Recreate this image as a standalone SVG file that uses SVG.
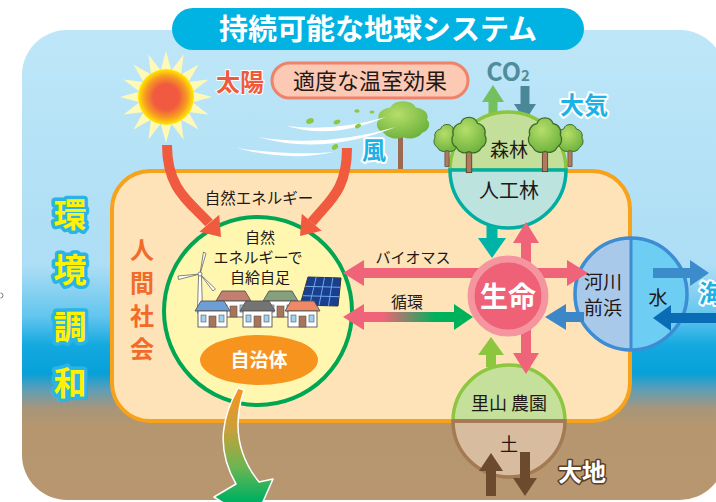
<svg xmlns="http://www.w3.org/2000/svg" width="716" height="502" viewBox="0 0 716 502">
  <defs>
    <linearGradient id="sky" x1="0" y1="30" x2="0" y2="500" gradientUnits="userSpaceOnUse">
      <stop offset="0" stop-color="#BEE6F8"/>
      <stop offset="0.5" stop-color="#ADDEF5"/>
      <stop offset="0.61" stop-color="#62C5EE"/>
      <stop offset="0.67" stop-color="#14A9E0"/>
      <stop offset="0.73" stop-color="#06A0D8"/>
      <stop offset="0.765" stop-color="#5E9EB6"/>
      <stop offset="0.805" stop-color="#A8957A"/>
      <stop offset="0.84" stop-color="#B5966F"/>
      <stop offset="1" stop-color="#B8976F"/>
    </linearGradient>
    <radialGradient id="sunCore" cx="166" cy="97" r="28" gradientUnits="userSpaceOnUse">
      <stop offset="0" stop-color="#F15A40"/>
      <stop offset="0.45" stop-color="#F15A40"/>
      <stop offset="0.75" stop-color="#F79A22"/>
      <stop offset="1" stop-color="#FFEA00"/>
    </radialGradient>
    <radialGradient id="sunRay" cx="166" cy="97" r="46" gradientUnits="userSpaceOnUse">
      <stop offset="0.55" stop-color="#FFE600"/>
      <stop offset="1" stop-color="#FFF9B8"/>
    </radialGradient>
    <radialGradient id="leaf" cx="0.4" cy="0.35" r="0.7">
      <stop offset="0" stop-color="#B6DE6A"/>
      <stop offset="1" stop-color="#6CB23C"/>
    </radialGradient>
    <linearGradient id="cycle" x1="383" y1="0" x2="435" y2="0" gradientUnits="userSpaceOnUse">
      <stop offset="0" stop-color="#EF6478"/>
      <stop offset="1" stop-color="#00B15B"/>
    </linearGradient>
    <linearGradient id="outflow" x1="0" y1="390" x2="0" y2="500" gradientUnits="userSpaceOnUse">
      <stop offset="0" stop-color="#F7941D"/>
      <stop offset="0.35" stop-color="#C9A03A"/>
      <stop offset="0.7" stop-color="#6CB552"/>
      <stop offset="1" stop-color="#00B060"/>
    </linearGradient>
    <path id="canopy" d="M-12,8 a8.5,8.5 0 0 1 -3,-12 a8.5,8.5 0 0 1 7,-11 a8.5,8.5 0 0 1 16,0 a8.5,8.5 0 0 1 7,11 a8.5,8.5 0 0 1 -3,12 a8.5,8.5 0 0 1 -12,4 a8.5,8.5 0 0 1 -12,-4 z"/>
    <g id="tree">
      <rect x="-2.6" y="6" width="5.2" height="26" fill="#B07A5E" stroke="#5A3A2A" stroke-width="0.8"/>
      <use href="#canopy" fill="url(#leaf)" stroke="#3E6B2A" stroke-width="1.2"/>
    </g>
    <polygon id="ray" points="0,-46 6,-24 -6,-24" fill="url(#sunRay)"/>
    <g id="house">
      <polygon points="0,10 6,0 29,0 35,10" stroke="#555" stroke-width="0.9"/>
      <rect x="3" y="10" width="29" height="16" fill="#FFFFFF" stroke="#555" stroke-width="0.9"/>
      <rect x="6" y="14" width="5" height="7" fill="#9CD2F2" stroke="#555" stroke-width="0.6"/>
      <rect x="24" y="14" width="5" height="7" fill="#9CD2F2" stroke="#555" stroke-width="0.6"/>
      <rect x="14" y="15" width="7" height="11" fill="#A8745A" stroke="#555" stroke-width="0.6"/>
    </g>
  </defs>

  <style>
    text { font-family: "Noto Sans CJK JP", "Noto Sans", sans-serif; text-anchor: middle; }
    .b { font-weight: 700; }
    .dark { fill: #231815; }
    .sky { fill: #1DB2E6; stroke: #FFFFFF; stroke-width: 4; paint-order: stroke; stroke-linejoin: round; font-weight: 700; }
    .vert { fill: #FFF200; stroke: #2AB4E6; stroke-width: 7; paint-order: stroke; stroke-linejoin: round; font-weight: 700; font-size: 33px; }
    .pink { fill: #EF6478; }
    .pinkS { stroke: #EF6478; stroke-width: 10; fill: none; }
  </style>

  <!-- backdrop -->
  <rect x="22" y="30" width="703" height="470" rx="45" fill="url(#sky)"/>
  <path d="M0.5,293 a2.5,2.5 0 0 1 0,5" fill="none" stroke="#777" stroke-width="1"/>

  <!-- title -->
  <g id="title">
    <rect x="172" y="8" width="412" height="42" rx="21" fill="#00B3E3"/>
    <text x="378" y="40" class="b" font-size="29" fill="#FFFFFF">持続可能な地球システム</text>
  </g>

  <!-- sun -->
  <g id="sun">
    <g transform="translate(166,97)">
      <use href="#ray" transform="rotate(0)"/>
      <use href="#ray" transform="rotate(22.5)"/>
      <use href="#ray" transform="rotate(45)"/>
      <use href="#ray" transform="rotate(67.5)"/>
      <use href="#ray" transform="rotate(90)"/>
      <use href="#ray" transform="rotate(112.5)"/>
      <use href="#ray" transform="rotate(135)"/>
      <use href="#ray" transform="rotate(157.5)"/>
      <use href="#ray" transform="rotate(180)"/>
      <use href="#ray" transform="rotate(202.5)"/>
      <use href="#ray" transform="rotate(225)"/>
      <use href="#ray" transform="rotate(247.5)"/>
      <use href="#ray" transform="rotate(270)"/>
      <use href="#ray" transform="rotate(292.5)"/>
      <use href="#ray" transform="rotate(315)"/>
      <use href="#ray" transform="rotate(337.5)"/>
    </g>
    <circle cx="166" cy="97" r="28" fill="url(#sunCore)"/>
    <text x="240" y="91" class="b" font-size="24" fill="#EF5A3C" stroke="#FFFFFF" stroke-width="2" paint-order="stroke">太陽</text>
  </g>

  <!-- greenhouse label -->
  <g id="greenhouse">
    <rect x="272" y="63" width="196" height="35" rx="17.5" fill="#FBC9B4" stroke="#F0826A" stroke-width="3"/>
    <text x="370" y="89" font-size="22" class="dark">適度な温室効果</text>
  </g>

  <!-- atmosphere -->
  <g id="atmosphere">
    <text x="508" y="81" font-family="Liberation Sans, Arial, sans-serif" font-weight="700" font-size="25" fill="#4F8D9C">CO<tspan font-size="15">2</tspan></text>
    <line x1="493" y1="100" x2="493" y2="119" stroke="#74BF5E" stroke-width="9"/>
    <polygon points="493,85 482,102 504,102" fill="#74BF5E"/>
    <line x1="525" y1="86" x2="525" y2="105" stroke="#4A8898" stroke-width="9"/>
    <polygon points="525,121 514,104 536,104" fill="#4A8898"/>
    <text x="584" y="114" font-size="24" class="sky">大気</text>
  </g>

  <!-- wind -->
  <g id="wind">
    <rect x="398" y="132" width="5" height="38" fill="#9B6A50"/>
    <use href="#canopy" transform="translate(403,124) scale(1.6,1.1)" fill="url(#leaf)"/>
    <path d="M287,126 Q332,140 386,117 Q334,132 287,126 Z" fill="#FFFFFF"/>
    <path d="M258,137 Q322,156 396,127 Q324,148 258,137 Z" fill="#FFFFFF"/>
    <path d="M236,148 Q290,162 334,152 Q290,156 236,148 Z" fill="#FFFFFF"/>
    <ellipse cx="310" cy="121" rx="4" ry="2.6" transform="rotate(-20 310 121)" fill="#8DC63F"/>
    <ellipse cx="337" cy="122" rx="3.5" ry="2.2" transform="rotate(-25 337 122)" fill="#8DC63F"/>
    <ellipse cx="357" cy="111" rx="2.6" ry="1.8" fill="#8DC63F"/>
    <ellipse cx="358" cy="126" rx="3.2" ry="2" transform="rotate(-30 358 126)" fill="#8DC63F"/>
    <ellipse cx="335" cy="147" rx="3.5" ry="2.3" transform="rotate(-35 335 147)" fill="#8DC63F"/>
    <ellipse cx="372" cy="112" rx="2.4" ry="1.6" fill="#8DC63F"/>
    <text x="374" y="159" font-size="24" class="sky">風</text>
  </g>

  <!-- environmental harmony -->
  <g id="harmony">
    <text x="70" y="227" class="vert">環</text>
    <text x="70" y="282" class="vert">境</text>
    <text x="70" y="339" class="vert">調</text>
    <text x="70" y="395" class="vert">和</text>
  </g>

  <!-- human society -->
  <g id="society">
    <rect x="112" y="171" width="518" height="250" rx="38" fill="#FEE3B8" stroke="#F7A21B" stroke-width="4"/>
    <g font-size="24" class="b" fill="#F26B2A">
      <text x="142" y="259">人</text>
      <text x="142" y="292">間</text>
      <text x="142" y="325">社</text>
      <text x="142" y="358">会</text>
    </g>
    <text x="259" y="204" font-size="15.5" class="dark">自然エネルギー</text>
  </g>

  <!-- forest / plantation -->
  <g id="forest">
    <path d="M450,170 A58,58 0 0 1 566,170 Z" fill="#C4DF99" stroke="#8CC63F" stroke-width="3.5"/>
    <path d="M450,170 A58,58 0 0 0 566,170 Z" fill="#BDE3DF" stroke="#00AEA2" stroke-width="3.5"/>
    <use href="#tree" transform="translate(447,141) scale(0.8)"/>
    <use href="#tree" transform="translate(570,141) scale(0.8)"/>
    <use href="#tree" transform="translate(469,139) scale(1.05)"/>
    <use href="#tree" transform="translate(545,139) scale(1.02)"/>
    <text x="509" y="157" font-size="19" class="dark">森林</text>
    <text x="509" y="198" font-size="20" class="dark">人工林</text>
  </g>

  <!-- satoyama / soil -->
  <g id="satoyama">
    <path d="M453,421 A56,56 0 0 1 565,421 Z" fill="#C5E09B" stroke="#8DC63F" stroke-width="3.5"/>
    <path d="M453,421 A56,56 0 0 0 565,421 Z" fill="#D8BC9F" stroke="#A47A52" stroke-width="3.5"/>
    <line x1="453" y1="421" x2="565" y2="421" stroke="#A47A52" stroke-width="3.5"/>
    <text x="509" y="410" font-size="18" class="dark">里山 農園</text>
    <text x="509" y="451" font-size="18" class="dark">土</text>
  </g>

  <!-- rivers / water -->
  <g id="water">
    <path d="M631,238 A56,56 0 0 0 631,350 Z" fill="#A9C9EB"/>
    <path d="M631,238 A56,56 0 0 1 631,350 Z" fill="#6ECDF3"/>
    <circle cx="631" cy="294" r="56" fill="none" stroke="#3C8DD3" stroke-width="3.5"/>
    <line x1="631" y1="238" x2="631" y2="350" stroke="#3C8DD3" stroke-width="3"/>
    <text x="603" y="289" font-size="19" class="dark">河川</text>
    <text x="603" y="315" font-size="19" class="dark">前浜</text>
    <text x="658" y="305" font-size="19" class="dark">水</text>
  </g>

  <!-- self-sufficient community -->
  <g id="community">
    <circle cx="258" cy="311" r="94" fill="#FFF7B0" stroke="#00A651" stroke-width="4"/>
    <text x="260" y="243" font-size="15" class="dark">自然</text>
    <text x="258" y="263" font-size="15" class="dark">エネルギーで</text>
    <text x="260" y="283" font-size="15" class="dark">自給自足</text>
    <!-- wind turbine -->
    <polygon points="198.6,274 201.4,274 202.6,313 197.4,313" fill="#FFFFFF" stroke="#666" stroke-width="0.8"/>
    <path d="M200,274 L203.5,252 L206,253.5 Z" fill="#FFFFFF" stroke="#666" stroke-width="0.8" stroke-linejoin="round"/>
    <path d="M200,274 L178,276 L178.5,279.5 Z" fill="#FFFFFF" stroke="#666" stroke-width="0.8" stroke-linejoin="round"/>
    <path d="M200,274 L213,291 L215.5,289 Z" fill="#FFFFFF" stroke="#666" stroke-width="0.8" stroke-linejoin="round"/>
    <circle cx="200" cy="274" r="2" fill="#FFFFFF" stroke="#666" stroke-width="0.8"/>
    <!-- solar panel -->
    <polygon points="308,277 341,278 338,306 300,305" fill="#1B3F8F" stroke="#333" stroke-width="1"/>
    <g stroke="#6FA8E8" stroke-width="1">
      <line x1="316.2" y1="277.2" x2="309.5" y2="305.2"/>
      <line x1="324.5" y1="277.5" x2="319" y2="305.5"/>
      <line x1="332.8" y1="277.8" x2="328.5" y2="305.8"/>
      <line x1="305.3" y1="286.3" x2="340" y2="287.3"/>
      <line x1="302.7" y1="295.7" x2="339" y2="296.7"/>
    </g>
    <!-- houses -->
    <use href="#house" transform="translate(216,291)" fill="#C27E6F"/>
    <use href="#house" transform="translate(263,291)" fill="#86A07E"/>
    <use href="#house" transform="translate(195,301)" fill="#6E9ED6"/>
    <use href="#house" transform="translate(240,301)" fill="#747474"/>
    <use href="#house" transform="translate(285,301)" fill="#F08866"/>
    <!-- municipality -->
    <ellipse cx="259" cy="360" rx="59" ry="25" fill="#F7941D"/>
    <text x="259" y="367" font-size="19" fill="#FFFFFF" class="b">自治体</text>
  </g>

  <!-- connectors -->
  <g id="connectors">
    <!-- natural energy from sun and wind -->
    <path d="M167,145 C167,190 190,202 209,223" fill="none" stroke="#F05A3F" stroke-width="10"/>
    <polygon points="221,237 199.4,231.8 219.2,214.8" fill="#F05A3F"/>
    <path d="M347,148 C347,190 330,200 311.7,222.3" fill="none" stroke="#F05A3F" stroke-width="10"/>
    <polygon points="300,236 321.6,230.8 301.8,213.8" fill="#F05A3F"/>

    <!-- outflow from municipality -->
    <path d="M238,388 C224,414 214,446 236,484 L214,497 L254,522 L273,479 L259,482 C243,462 230,432 244,390 Z" fill="url(#outflow)" stroke="#FFFFFF" stroke-width="1.5" stroke-linejoin="round"/>

    <!-- biomass -->
    <line x1="360" y1="273" x2="570" y2="273" class="pinkS"/>
    <polygon points="343,273 364,260 364,286" class="pink"/>
    <polygon points="588,273 567,260 567,286" class="pink"/>
    <text x="413" y="263" font-size="15" class="dark">バイオマス</text>

    <!-- circulation -->
    <line x1="360" y1="317" x2="458" y2="317" stroke="url(#cycle)" stroke-width="10"/>
    <polygon points="343,317 364,304 364,330" class="pink"/>
    <polygon points="473,317 454,304 454,330" fill="#00B15B"/>
    <text x="407" y="308" font-size="16" class="dark">循環</text>

    <!-- river to life -->
    <line x1="562" y1="317" x2="584" y2="317" stroke="#3B87C8" stroke-width="10"/>
    <polygon points="545,317 566,304 566,330" fill="#3B87C8"/>

    <!-- vertical life axis -->
    <line x1="526" y1="238" x2="526" y2="358" class="pinkS"/>
    <polygon points="526,222 513,243 539,243" class="pink"/>
    <polygon points="526,374 513,353 539,353" class="pink"/>

    <!-- plantation to life -->
    <line x1="492" y1="226" x2="492" y2="242" stroke="#00B3A7" stroke-width="11"/>
    <polygon points="492,258 478,238 506,238" fill="#00B3A7"/>

    <!-- satoyama to life -->
    <line x1="491" y1="352" x2="491" y2="367" stroke="#8CC63E" stroke-width="10"/>
    <polygon points="491,337 478,355 504,355" fill="#8CC63E"/>

    <!-- soil exchange -->
    <line x1="491" y1="468" x2="491" y2="496" stroke="#6B4A2E" stroke-width="10"/>
    <polygon points="491,453 479,471 503,471" fill="#6B4A2E"/>
    <line x1="525" y1="452" x2="525" y2="481" stroke="#6B4A2E" stroke-width="10"/>
    <polygon points="525,496 513,478 537,478" fill="#6B4A2E"/>

    <!-- sea exchange -->
    <line x1="653" y1="273" x2="692" y2="273" stroke="#3C8BCB" stroke-width="10"/>
    <polygon points="709,273 690,260 690,286" fill="#3C8BCB"/>
    <line x1="668" y1="318" x2="716" y2="318" stroke="#0A6CB5" stroke-width="10"/>
    <polygon points="653,318 671,305 671,331" fill="#0A6CB5"/>
  </g>

  <!-- life -->
  <g id="life">
    <circle cx="508" cy="296" r="37" fill="#EE6176" stroke="#F5959F" stroke-width="7"/>
    <text x="508" y="307" font-size="28" class="b" fill="#FFFFFF">生命</text>
  </g>

  <!-- labels outside -->
  <g id="labels">
    <text x="711" y="302" font-size="24" class="sky">海</text>
    <text x="582" y="481" font-size="24" class="b" fill="#FFFFFF" stroke="#5A3E28" stroke-width="3" paint-order="stroke" stroke-linejoin="round">大地</text>
  </g>
</svg>
